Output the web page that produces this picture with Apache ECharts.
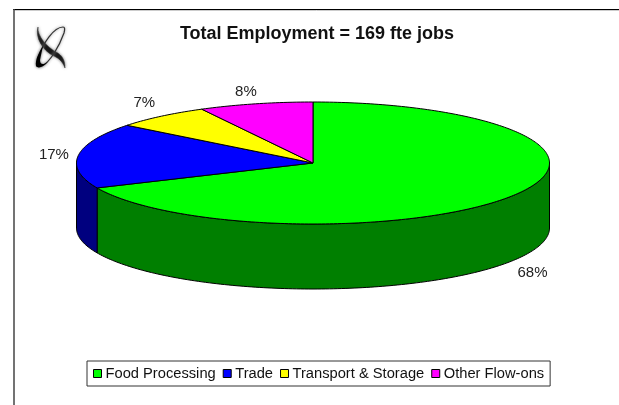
<!DOCTYPE html>
<html>
<head>
<meta charset="utf-8">
<style>
html, body { margin: 0; padding: 0; background: #fff; }
#chart { width: 619px; height: 405px; }
</style>
<script src="https://cdn.jsdelivr.net/npm/echarts@6/dist/echarts.min.js"></script>
</head>
<body>
<div id="chart"></div>
<script>
var titleText = 'Total Employment = 169 fte jobs';
var categories = ['Food Processing', 'Trade', 'Transport & Storage', 'Other Flow-ons'];
var shares = [68.3, 17.3, 6.6, 7.8];
var topColors = ['#00ff00', '#0000ff', '#ffff00', '#ff00ff'];
var sideColors = ['#007f00', '#00007f', '#7f7f00', '#7f007f'];

var FONT = '"Liberation Sans", Arial, sans-serif';
var cx = 313, cy = 163, rx = 236.5, ry = 61, depth = 65;
var labelRx = 258, labelRy = 78;
var labelNudge = [[3, 2], [-3, 1], [-3, 0], [-4.5, 5]];

var total = shares.reduce(function (a, b) { return a + b; }, 0);

// point on the rim, angle in degrees clockwise from 12 o'clock
function rim(deg, drop) {
    var a = deg * Math.PI / 180;
    return [cx + rx * Math.sin(a), cy - ry * Math.cos(a) + (drop || 0)];
}

function renderSlice(params, api) {
    var i = params.seriesIndex;
    var before = 0;
    for (var k = 0; k < i; k++) {
        before += shares[k];
    }
    var value = api.value(0);
    var start = before / total * 360;
    var end = (before + value) / total * 360;
    var children = [];

    // side wall, only the front half of the disc shows
    var wallFrom = Math.max(start, 90);
    var wallTo = Math.min(end, 270);
    if (wallTo > wallFrom) {
        var upper = [], lower = [];
        for (var d = wallFrom; d < wallTo; d += 1) {
            upper.push(rim(d));
            lower.unshift(rim(d, depth));
        }
        upper.push(rim(wallTo));
        lower.unshift(rim(wallTo, depth));
        children.push({
            type: 'polygon',
            shape: { points: upper.concat(lower) },
            style: { fill: sideColors[i], stroke: '#000', lineWidth: 1 }
        });
    }

    // top face
    var pts = [[cx, cy]];
    for (var t = start; t < end; t += 1) {
        pts.push(rim(t));
    }
    pts.push(rim(end));
    children.push({
        type: 'polygon',
        shape: { points: pts },
        style: { fill: topColors[i], stroke: '#000', lineWidth: 1 }
    });

    // percentage label outside the rim
    var mid = (start + end) / 2 * Math.PI / 180;
    var frontDrop = Math.cos(mid) < 0 && Math.abs(Math.sin(mid)) > 0.3 ? depth : 0;
    children.push({
        type: 'text',
        style: {
            x: cx + labelRx * Math.sin(mid) + labelNudge[i][0],
            y: cy - labelRy * Math.cos(mid) + frontDrop + labelNudge[i][1],
            text: Math.round(value / total * 100) + '%',
            font: '15px ' + FONT,
            fill: '#222',
            align: 'center',
            verticalAlign: 'middle'
        }
    });
    return { type: 'group', children: children };
}

function renderLogo() {
    return {
        type: 'group',
        children: [
            {
                type: 'path',
                shape: { pathData: 'M38 27 C37 36 47 47 56 52 C62 55 65 60 65 68 C62 60 58 58 52 55 C43 50 35 38 38 27 Z' },
                style: { fill: '#111', stroke: '#333', lineWidth: 0.5, shadowBlur: 3, shadowColor: '#777' }
            },
            {
                type: 'path',
                shape: { pathData: 'M63 27 C54 27 43 43 38 58 C36 65 38 68 42 66 C50 62 59 47 64 33 C65 29 65 27 63 27' },
                style: { fill: 'none', stroke: '#333', lineWidth: 1.2, shadowBlur: 3, shadowColor: '#888' }
            },
            {
                type: 'path',
                shape: { pathData: 'M43 46 C39 52 35 60 36 66 C38 69 43 67 48 62 C43 65 40 65 40 60 C41 55 42 50 43 46 Z' },
                style: { fill: '#000', shadowBlur: 3, shadowColor: '#666' }
            }
        ]
    };
}

var myChart = echarts.init(document.getElementById('chart'), null, { renderer: 'canvas' });
var sliceSeries = categories.map(function (name, i) {
    return {
        name: name,
        type: 'custom',
        coordinateSystem: 'none',
        itemStyle: { color: topColors[i] },
        renderItem: renderSlice,
        data: [[shares[i]]]
    };
});
var option = {
    animation: false,
    backgroundColor: '#fff',
    title: {
        text: titleText,
        left: 312,
        top: 20,
        textAlign: 'center',
        textStyle: { fontFamily: FONT, fontSize: 18, fontWeight: 'bold', color: '#111' }
    },
    legend: {
        left: 87,
        top: 361,
        orient: 'horizontal',
        data: categories,
        icon: 'rect',
        itemWidth: 8,
        itemHeight: 8,
        itemGap: 7,
        padding: [5, 6, 5, 6],
        borderColor: '#333',
        borderWidth: 1,
        backgroundColor: '#fff',
        itemStyle: { borderColor: '#000', borderWidth: 1 },
        textStyle: { fontFamily: FONT, fontSize: 14.7, color: '#111', padding: [0, 0, 0, -1] }
    },
    graphic: [
        { type: 'line', shape: { x1: 13, y1: 9.5, x2: 619, y2: 9.5 }, style: { stroke: '#000', lineWidth: 1 }, silent: true },
        { type: 'line', shape: { x1: 14, y1: 10.5, x2: 619, y2: 10.5 }, style: { stroke: '#ccc', lineWidth: 1 }, silent: true },
        { type: 'line', shape: { x1: 14, y1: 9, x2: 14, y2: 405 }, style: { stroke: '#444', lineWidth: 1.5 }, silent: true }
    ],
    series: sliceSeries.concat([{
        type: 'custom',
        coordinateSystem: 'none',
        silent: true,
        renderItem: renderLogo,
        data: [[0]]
    }])
};
myChart.setOption(option);
</script>
</body>
</html>
